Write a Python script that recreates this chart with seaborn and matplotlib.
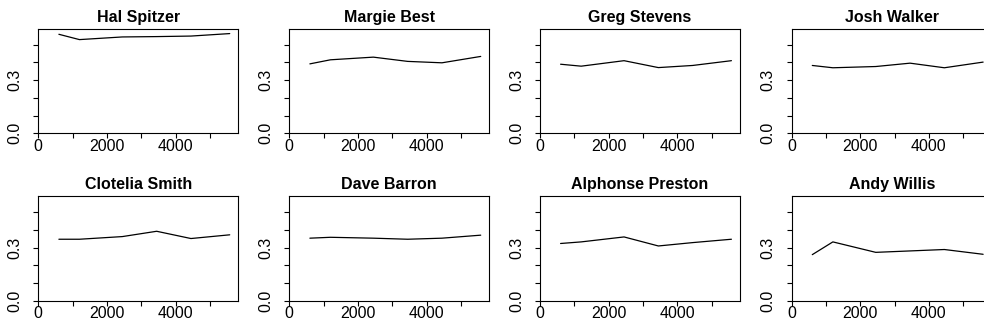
import numpy as np
import pandas as pd
import seaborn as sns
import matplotlib
matplotlib.use("Agg")
import matplotlib.pyplot as plt

# data
names = ["Hal Spitzer", "Margie Best", "Greg Stevens", "Josh Walker",
         "Clotelia Smith", "Dave Barron", "Alphonse Preston", "Andy Willis"]
x_vals = [600, 1200, 2450, 3450, 4450, 5580]
hal = [0.559, 0.529, 0.544, 0.546, 0.549, 0.563]
margie = [0.392, 0.415, 0.430, 0.406, 0.398, 0.434]
greg = [0.390, 0.379, 0.410, 0.371, 0.383, 0.410]
josh = [0.383, 0.370, 0.377, 0.396, 0.370, 0.402]
clotelia = [0.347, 0.347, 0.362, 0.392, 0.351, 0.372]
dave = [0.353, 0.358, 0.353, 0.347, 0.353, 0.370]
alphonse = [0.323, 0.332, 0.360, 0.309, 0.328, 0.347]
andy = [0.260, 0.332, 0.273, 0.281, 0.289, 0.262]
series = [hal, margie, greg, josh, clotelia, dave, alphonse, andy]

x_ticks = [0, 1000, 2000, 3000, 4000, 5000]
x_labels = ["0", "", "2000", "", "4000", ""]
y_ticks = [0.0, 0.1, 0.2, 0.3, 0.4, 0.5]
y_labels = ["0.0", "", "", "0.3", "", ""]

rows = []
for name, vals in zip(names, series):
    for x, y in zip(x_vals, vals):
        rows.append({"name": name, "x": x, "y": y})
df = pd.DataFrame(rows)

sns.set_theme(style="ticks")
plt.rcParams["font.family"] = ["Liberation Sans", "DejaVu Sans"]
plt.rcParams["text.color"] = "black"

W, H = 984, 328
fig = plt.figure(figsize=(W / 100, H / 100), dpi=100)

lefts = [38.3, 289.3, 540.0, 791.7]
bottoms = [133.3, 300.7]
aw, ah = 200, 104.5

for i, name in enumerate(names):
    r, c = divmod(i, 4)
    ax = fig.add_axes([lefts[c] / W, 1 - bottoms[r] / H, aw / W, ah / H])
    sns.lineplot(data=df[df["name"] == name], x="x", y="y", ax=ax,
                 color="black", linewidth=0.9)
    ax.set_xlim(0, 5830)
    ax.set_ylim(0, 0.59)
    ax.set_xticks(x_ticks)
    ax.set_xticklabels(x_labels)
    ax.set_yticks(y_ticks)
    ax.set_yticklabels(y_labels, rotation=90, va="center")
    ax.set_xlabel("")
    ax.set_ylabel("")
    ax.set_title(name, fontsize=11.5, fontweight="bold", pad=5, color="black")
    for s in ax.spines.values():
        s.set_visible(True)
        s.set_color("black")
        s.set_linewidth(0.8)
    ax.tick_params(axis="both", direction="out", length=3.5, width=0.8,
                   color="black", labelsize=11.5, labelcolor="black")
    ax.tick_params(axis="x", pad=0.5)
    ax.tick_params(axis="y", pad=8)

fig.savefig("out.png", dpi=100)
